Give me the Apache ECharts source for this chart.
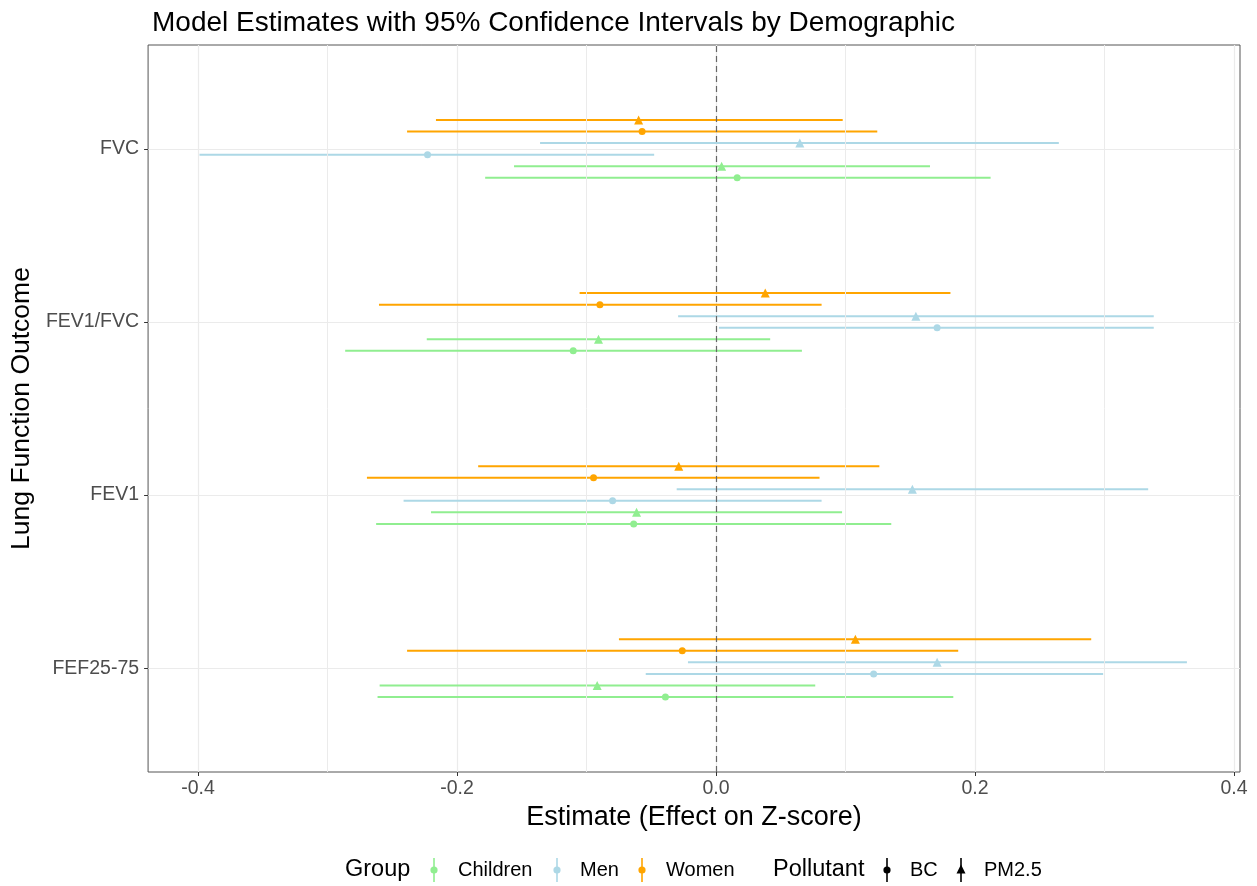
<!DOCTYPE html>
<html><head><meta charset="utf-8">
<script src="https://cdn.jsdelivr.net/npm/echarts@6/dist/echarts.min.js"></script>
<style>html,body{margin:0;padding:0;background:#fff}#c{width:1257px;height:886px}</style>
</head><body><div id="c"></div>
<script>
// Outcomes from bottom to top
const outcomes = ['FEF25-75', 'FEV1', 'FEV1/FVC', 'FVC'];
const groups = ['Children', 'Men', 'Women'];
const pollutants = ['BC', 'PM2.5'];
// [estimate, lower, upper] per outcome (same order as outcomes)
const childrenBC   = [[-0.0391, -0.2614, 0.1832], [-0.0636, -0.2625, 0.1353], [-0.1103, -0.2864, 0.0663], [0.0163, -0.1783, 0.2120]];
const childrenPM25 = [[-0.0918, -0.2598, 0.0766], [-0.0614, -0.2201, 0.0973], [-0.0908, -0.2234, 0.0418], [0.0043, -0.1560, 0.1652]];
const menBC        = [[0.1217, -0.0543, 0.2989], [-0.0799, -0.2413, 0.0815], [0.1707, 0.0022, 0.3380], [-0.2228, -0.3989, -0.0478]];
const menPM25      = [[0.1707, -0.0217, 0.3636], [0.1516, -0.0304, 0.3337], [0.1543, -0.0293, 0.3380], [0.0647, -0.1359, 0.2647]];
const womenBC      = [[-0.0261, -0.2386, 0.1870], [-0.0946, -0.2696, 0.0799], [-0.0897, -0.2603, 0.0815], [-0.0571, -0.2386, 0.1245]];
const womenPM25    = [[0.1076, -0.0750, 0.2897], [-0.0288, -0.1837, 0.1261], [0.0380, -0.1054, 0.1810], [-0.0598, -0.2163, 0.0978]];
const xTicks = [-0.4, -0.2, 0, 0.2, 0.4];
const xMinor = [-0.3, -0.1, 0.1, 0.3];

const FONT = 'Liberation Sans, Arial, Helvetica, sans-serif';
const colors = { Children: '#90EE90', Men: '#ADD8E6', Women: '#FFA500' };
const symbols = { 'BC': 'circle', 'PM2.5': 'triangle' };
const combos = [
  { g: 'Children', p: 'BC', d: childrenBC },
  { g: 'Children', p: 'PM2.5', d: childrenPM25 },
  { g: 'Men', p: 'BC', d: menBC },
  { g: 'Men', p: 'PM2.5', d: menPM25 },
  { g: 'Women', p: 'BC', d: womenBC },
  { g: 'Women', p: 'PM2.5', d: womenPM25 }
];
const dodgeWidth = 0.4;
const n = combos.length;

const series = [];
combos.forEach((c, i) => {
  const off = -dodgeWidth / 2 + dodgeWidth / n * (i + 0.5);
  const col = colors[c.g];
  series.push({
    type: 'custom', name: c.g + ' ' + c.p + ' CI',
    encode: { x: [1, 2], y: 0 },
    data: c.d.map((r, k) => [k + 1 + off, r[1], r[2]]),
    renderItem: (params, api) => {
      const y = api.value(0);
      const p1 = api.coord([api.value(1), y]);
      const p2 = api.coord([api.value(2), y]);
      return { type: 'line', shape: { x1: p1[0], y1: p1[1], x2: p2[0], y2: p2[1] },
        style: { stroke: col, lineWidth: 2 } };
    },
    z: 3, silent: true
  });
  series.push({
    type: 'scatter', name: c.g + ' ' + c.p,
    symbol: symbols[c.p], symbolSize: c.p === 'BC' ? 7 : 9,
    itemStyle: { color: col, opacity: 1 },
    data: c.d.map((r, k) => [r[0], k + 1 + off]),
    z: 4, silent: true
  });
});
// minor grid + zero reference line
series.push({
  type: 'scatter', data: [], silent: true, z: 1,
  markLine: { silent: true, symbol: 'none', label: { show: false },
    lineStyle: { color: '#ebebeb', width: 1, type: 'solid' },
    data: xMinor.map(v => ({ xAxis: v })) }
});
series.push({
  type: 'scatter', data: [], silent: true, z: 10,
  markLine: { silent: true, symbol: 'none', label: { show: false }, z: 10,
    lineStyle: { color: '#666', width: 1.2, type: [6, 4] },
    data: [{ xAxis: 0 }] }
});

// Legend built with graphics
const legY = 870;
const g = [];
function txt(x, s, size) {
  g.push({ type: 'text', x: x, y: legY, style: { text: s, font: size + 'px ' + FONT, fill: '#000', textVerticalAlign: 'middle', verticalAlign: 'middle' } });
}
function glyph(x, col, sym) {
  g.push({ type: 'line', shape: { x1: x, y1: legY - 12, x2: x, y2: legY + 12 }, style: { stroke: col, lineWidth: 1.6 } });
  if (sym === 'circle') {
    g.push({ type: 'circle', shape: { cx: x, cy: legY, r: 3.6 }, style: { fill: col } });
  } else {
    g.push({ type: 'polygon', shape: { points: [[x, legY - 5.5], [x - 4.5, legY + 3.5], [x + 4.5, legY + 3.5]] }, style: { fill: col } });
  }
}
txt(345, 'Group', 23.5);
glyph(434, colors.Children, 'circle'); txt(458, 'Children', 20);
glyph(557, colors.Men, 'circle'); txt(580, 'Men', 20);
glyph(642, colors.Women, 'circle'); txt(666, 'Women', 20);
txt(773, 'Pollutant', 23.5);
glyph(887, '#000', 'circle'); txt(910, 'BC', 20);
glyph(961, '#000', 'triangle'); txt(984, 'PM2.5', 20);

const chart = echarts.init(document.getElementById('c'), null, { renderer: 'canvas' });
chart.setOption({
  animation: false,
  backgroundColor: '#fff',
  textStyle: { fontFamily: FONT },
  title: { text: 'Model Estimates with 95% Confidence Intervals by Demographic', left: 147, top: 4,
    textStyle: { fontFamily: FONT, fontSize: 28, fontWeight: 'normal', color: '#000' } },
  grid: { left: 148, right: 17, top: 45, bottom: 114, show: true, borderColor: '#555', borderWidth: 1, backgroundColor: 'transparent' },
  xAxis: {
    type: 'value', min: -0.4386, max: 0.4046,
    name: 'Estimate (Effect on Z-score)', nameLocation: 'middle', nameGap: 30,
    nameTextStyle: { fontFamily: FONT, fontSize: 27, color: '#000' },
    axisLine: { show: false, onZero: false },
    axisTick: { show: true, length: 4, lineStyle: { color: '#333' }, customValues: xTicks },
    axisLabel: { customValues: xTicks, formatter: v => v.toFixed(1), fontSize: 19.5, color: '#4d4d4d', margin: 7, fontFamily: FONT },
    splitLine: { show: true, lineStyle: { color: '#ebebeb', width: 1.2 } }
  },
  yAxis: {
    type: 'value', min: 0.4, max: 4.6,
    name: 'Lung Function Outcome', nameLocation: 'middle', nameGap: 113, nameRotate: 90,
    nameTextStyle: { fontFamily: FONT, fontSize: 26.5, color: '#000' },
    axisLine: { show: false, onZero: false },
    axisTick: { show: true, length: 4, lineStyle: { color: '#333' }, customValues: [1, 2, 3, 4] },
    axisLabel: { customValues: [1, 2, 3, 4], formatter: v => outcomes[Math.round(v) - 1] || '', fontSize: 19.5, color: '#4d4d4d', margin: 9, fontFamily: FONT },
    splitLine: { show: true, lineStyle: { color: '#ebebeb', width: 1.2 } }
  },
  graphic: g,
  series: series
});
</script></body></html>
